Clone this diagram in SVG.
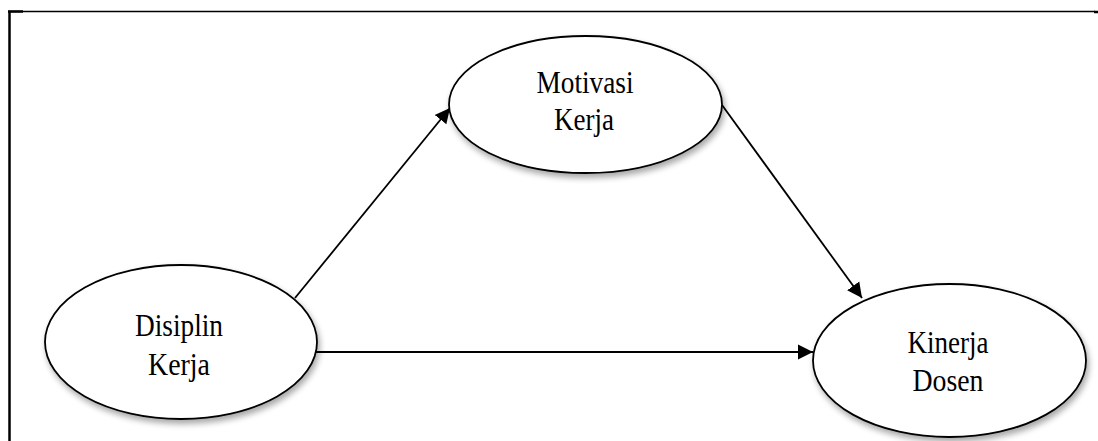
<svg xmlns="http://www.w3.org/2000/svg" width="1098" height="441" viewBox="0 0 1098 441">
  <defs>
    <filter id="shadow" x="-20%" y="-20%" width="140%" height="150%">
      <feGaussianBlur in="SourceAlpha" stdDeviation="3"/>
      <feOffset dx="2" dy="4" result="b"/>
      <feComponentTransfer><feFuncA type="linear" slope="0.35"/></feComponentTransfer>
      <feMerge><feMergeNode/><feMergeNode in="SourceGraphic"/></feMerge>
    </filter>
    <marker id="arrow" markerUnits="userSpaceOnUse" markerWidth="16" markerHeight="16" refX="15" refY="8" orient="auto">
      <path d="M0,0.5 L15,8 L0,15.5 z" fill="#000"/>
    </marker>
    <style>
      .node ellipse { fill: #fff; stroke: #000; stroke-width: 1.8; filter: url(#shadow); }
      .node text { font-family: "Liberation Serif", "Times New Roman", serif; font-size: 32.5px; fill: #000; text-anchor: middle; }
      .edge { stroke: #000; stroke-width: 1.8; fill: none; marker-end: url(#arrow); }
      .frame { stroke: #000; fill: none; }
    </style>
  </defs>
  <rect width="1098" height="441" fill="#fff"/>
  <g id="frame">
    <line class="frame" x1="9.5" y1="11" x2="9.5" y2="441" stroke-width="2.5"/>
    <line class="frame" x1="8" y1="11.5" x2="1095" y2="11.5" stroke-width="1.6"/>
    <line class="frame" x1="8" y1="11.5" x2="23" y2="11.5" stroke-width="2.5"/>
    <line class="frame" x1="1094" y1="12" x2="1098" y2="12" stroke-width="2.5"/>
  </g>
  <g id="connectors">
    <line class="edge" x1="295" y1="298" x2="450" y2="108"/>
    <line class="edge" x1="722" y1="105" x2="862" y2="298"/>
    <line class="edge" x1="316" y1="352" x2="813" y2="352"/>
  </g>
  <g id="node-disiplin" class="node">
    <ellipse cx="181" cy="342" rx="136" ry="77"/>
    <text x="179" y="336" textLength="88" lengthAdjust="spacingAndGlyphs">Disiplin</text>
    <text x="179" y="375" textLength="62" lengthAdjust="spacingAndGlyphs">Kerja</text>
  </g>
  <g id="node-motivasi" class="node">
    <ellipse cx="585.5" cy="104.5" rx="136.5" ry="68.5"/>
    <text x="585" y="93" textLength="97" lengthAdjust="spacingAndGlyphs">Motivasi</text>
    <text x="584" y="130" textLength="60" lengthAdjust="spacingAndGlyphs">Kerja</text>
  </g>
  <g id="node-kinerja" class="node">
    <ellipse cx="949.5" cy="360.5" rx="136.5" ry="76.5"/>
    <text x="948" y="353" textLength="81" lengthAdjust="spacingAndGlyphs">Kinerja</text>
    <text x="948" y="391" textLength="71" lengthAdjust="spacingAndGlyphs">Dosen</text>
  </g>
</svg>
